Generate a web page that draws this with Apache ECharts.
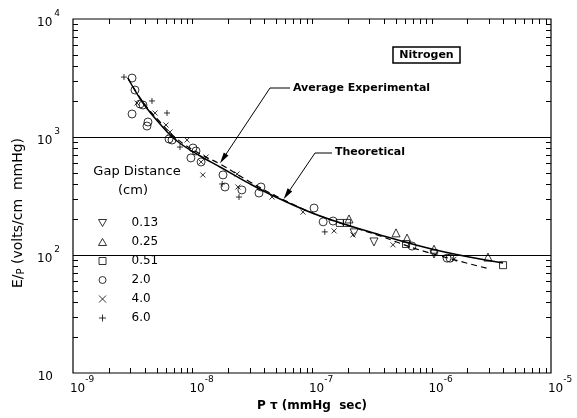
<!DOCTYPE html>
<html><head><meta charset="utf-8">
<script src="https://cdn.jsdelivr.net/npm/echarts@6/dist/echarts.min.js"></script>
<style>html,body{margin:0;padding:0;background:#fff}#c{width:577px;height:418px}</style>
</head><body><div id="c"></div>
<script>
// ---- data ----
const xMajor = [1e-9, 1e-8, 1e-7, 1e-6, 1e-5];
const yMajor = [10, 100, 1000, 10000];
const gapNames = ['0.13', '0.25', '0.51', '2.0', '4.0', '6.0'];
const gap013 = [[2.25e-7,154],[3.3e-7,129],[1.05e-6,102]];
const gap025 = [[2.04e-7,202],[5.05e-7,154],[6.24e-7,139],[1.05e-6,112],[2.97e-6,96]];
const gap051 = [[1.71e-7,187],[1.96e-7,187],[6.12e-7,124],[3.97e-6,82]];
const gap20 = [[3.12e-9,3160],[3.30e-9,2500],[3.64e-9,1905],[3.85e-9,1867],[3.12e-9,1567],[4.24e-9,1340],[4.16e-9,1238],[6.36e-9,962],[6.74e-9,943],[1.01e-8,807],[1.07e-8,761],[9.7e-9,665],[1.18e-8,614],[1.80e-8,477],[1.87e-8,377],[2.59e-8,356],[3.74e-8,377],[3.60e-8,335],[1.04e-7,250],[1.24e-7,191],[1.50e-7,194],[6.87e-7,119],[1.35e-6,94],[1.43e-6,94]];
const gap40 = [[3.43e-9,1940],[4.86e-9,1597],[6.0e-9,1264],[6.48e-9,1102],[9.0e-9,943],[1.30e-8,677],[1.18e-8,614],[1.22e-8,477],[2.36e-8,486],[2.40e-8,377],[4.63e-8,310],[8.41e-8,231],[1.53e-7,160],[2.20e-7,148],[4.76e-7,122],[1.54e-6,92]];
const gap60 = [[2.67e-9,3220],[4.58e-9,2020],[6.12e-9,1597],[7.86e-9,822],[1.77e-8,400],[2.45e-8,310],[1.28e-7,157]];
const avgExp = [[2.88e-9,3162],[3.85e-9,1940],[5.35e-9,1289],[7.42e-9,925],[1.16e-8,690],[1.70e-8,557],[3.03e-8,400],[5.40e-8,298],[1.17e-7,214],[3.71e-7,148],[1.18e-6,108],[3.97e-6,85.5]];
const theory = [[2.88e-9,3162],[3.85e-9,1980],[5.35e-9,1340],[7.42e-9,962],[1.16e-8,718],[1.70e-8,590],[3.03e-8,416],[5.40e-8,304],[1.17e-7,214],[3.71e-7,145],[8.0e-7,110],[3.09e-6,76]];
const avgArrowTip = [1.7e-8, 600];
const theoArrowTip = [5.8e-8, 298];

// interior minor tick values (2..9 per decade plus inner decades)
function decadeTicks(lo, hi) {
  const out = [];
  for (let e = lo; e < hi; e++) for (let m = (e === lo ? 2 : 1); m <= 9; m++) out.push(m * Math.pow(10, e));
  return out;
}
const xMinor = decadeTicks(-9, -5);
const yMinor = decadeTicks(1, 4);

const GRID = {left: 73, top: 19, right: 26, bottom: 45};
const CW = 577, CH = 418;
const xMin = xMajor[0], xMax = xMajor[xMajor.length - 1], yMin = yMajor[0], yMax = yMajor[yMajor.length - 1];

const chart = echarts.init(document.getElementById('c'));
const FONT = 'DejaVu Sans';
const symbols = [
  'path://M0,0L10,0L5,8.7Z',
  'path://M5,0L10,8.7L0,8.7Z',
  'path://M0,0L10,0L10,10L0,10Z',
  'circle',
  'path://M0,0L10,10M10,0L0,10',
  'path://M5,0L5,10M0,5L10,5'
];
const sizes = [8, 8, 7, 8, 5, 6];
const gapData = [gap013, gap025, gap051, gap20, gap40, gap60];

const series = gapNames.map((n, i) => ({
  name: n, type: 'scatter', data: gapData[i], symbol: symbols[i], symbolSize: sizes[i],
  itemStyle: {color: 'rgba(0,0,0,0)', borderColor: '#000', borderWidth: 1}, z: 5, silent: true
}));
series.push({
  name: 'Average Experimental', type: 'line', data: avgExp, smooth: 0.4, showSymbol: false,
  lineStyle: {color: '#000', width: 1.5}, z: 4, silent: true,
  markLine: {
    silent: true, symbol: 'none', label: {show: false}, animation: false,
    lineStyle: {color: '#000', type: 'solid', width: 1},
    data: [{xAxis: xMajor[1]}, {xAxis: xMajor[2]}, {xAxis: xMajor[3]}, {yAxis: yMajor[1]}, {yAxis: yMajor[2]}]
  }
});
series.push({
  name: 'Theoretical', type: 'line', data: theory, smooth: 0.4, showSymbol: false,
  lineStyle: {color: '#000', width: 1.2, type: [6, 4]}, z: 4, silent: true
});

chart.setOption({
  animation: false,
  backgroundColor: '#fff',
  textStyle: {fontFamily: FONT, color: '#000'},
  grid: Object.assign({show: true, borderColor: '#000', borderWidth: 1.2, backgroundColor: 'transparent'}, GRID),
  xAxis: {
    type: 'log', logBase: 10, min: xMin, max: xMax, splitNumber: 4, position: 'bottom',
    axisLine: {show: false}, splitLine: {show: false}, axisTick: {show: false},
    axisLabel: {
      margin: 2, showMinLabel: true, showMaxLabel: true, color: '#000',
      formatter: v => '{p|}{b|10}{s|' + Math.round(Math.log10(v)) + '}',
      rich: {p: {width: 18}, b: {fontSize: 12, lineHeight: 20, verticalAlign: 'bottom'}, s: {fontSize: 9, lineHeight: 9, verticalAlign: 'top'}}
    },
    name: 'P τ (mmHg  sec)', nameLocation: 'middle', nameGap: 24,
    nameTextStyle: {fontSize: 12, fontWeight: 'bold', color: '#000', fontFamily: FONT}
  },
  yAxis: {
    type: 'log', logBase: 10, min: yMin, max: yMax, splitNumber: 3, position: 'left',
    axisLine: {show: false}, splitLine: {show: false}, axisTick: {show: false},
    axisLabel: {
      margin: 13, showMinLabel: true, showMaxLabel: true, color: '#000',
      formatter: v => { const e = Math.round(Math.log10(v)); return e === 1 ? '{b|10}{e|}' : '{b|10}{s|' + e + '}'; },
      rich: {b: {fontSize: 12, lineHeight: 20, verticalAlign: 'bottom'}, s: {fontSize: 9, lineHeight: 9, verticalAlign: 'top', padding: [0, 0, 0, 2]}, e: {width: 7}}
    }
  },
  legend: {
    data: gapNames, orient: 'vertical', left: 98, top: 213.5, padding: 0, itemWidth: 48, itemHeight: 7, itemGap: 0,
    selectedMode: false, symbolKeepAspect: true,
    itemStyle: {borderWidth: 1},
    textStyle: {fontSize: 12, lineHeight: 19, color: '#000', fontFamily: FONT}
  },
  series: series
});

const toPx = d => chart.convertToPixel({xAxisIndex: 0, yAxisIndex: 0}, d);

// frame edges from the grid layout
const xL = GRID.left, xR = CW - GRID.right, yT = GRID.top, yB = CH - GRID.bottom;
// tick position along an axis: from the axis scale, with a log mapping fallback
function xPos(v) {
  const p = toPx([v, 100]);
  let x = p && isFinite(p[0]) ? p[0] : xL + (Math.log10(v) - Math.log10(xMin)) / Math.log10(xMax / xMin) * (xR - xL);
  return Math.round(x) + 0.5;
}
function yPos(v) {
  const p = toPx([1e-7, v]);
  let y = p && isFinite(p[1]) ? p[1] : yB - (Math.log10(v) - Math.log10(yMin)) / Math.log10(yMax / yMin) * (yB - yT);
  return Math.round(y) + 0.5;
}

function arrow(fromPts, tipData) {
  const tip = toPx(tipData);
  const last = fromPts[fromPts.length - 1];
  const dx = tip[0] - last[0], dy = tip[1] - last[1], L = Math.hypot(dx, dy);
  const ux = dx / L, uy = dy / L, hl = 11, hw = 2.8;
  const bx = tip[0] - ux * hl, by = tip[1] - uy * hl;
  return [
    {type: 'polyline', shape: {points: fromPts.concat([[bx + ux * 2, by + uy * 2]])}, style: {stroke: '#000', lineWidth: 1, fill: 'none'}},
    {type: 'polygon', shape: {points: [tip, [bx - uy * hw, by + ux * hw], [bx + uy * hw, by - ux * hw]]}, style: {fill: '#000'}}
  ];
}

const g = [];
const TL = 5;
xMinor.forEach(v => {
  const px = xPos(v);
  g.push({type: 'line', shape: {x1: px, y1: yB, x2: px, y2: yB - TL}, style: {stroke: '#000', lineWidth: 1}});
  g.push({type: 'line', shape: {x1: px, y1: yT, x2: px, y2: yT + TL}, style: {stroke: '#000', lineWidth: 1}});
});
yMinor.forEach(v => {
  const py = yPos(v);
  g.push({type: 'line', shape: {x1: xL, y1: py, x2: xL + TL, y2: py}, style: {stroke: '#000', lineWidth: 1}});
  g.push({type: 'line', shape: {x1: xR, y1: py, x2: xR - TL, y2: py}, style: {stroke: '#000', lineWidth: 1}});
});

g.push({type: 'rect', shape: {x: 393, y: 47, width: 67, height: 16}, style: {fill: '#fff', stroke: '#000', lineWidth: 1.5}});
g.push({type: 'text', x: 426.5, y: 55.5, style: {text: 'Nitrogen', fontFamily: FONT, fontSize: 11, fontWeight: 'bold', align: 'center', verticalAlign: 'middle', fill: '#000'}});
g.push({type: 'text', x: 293, y: 88, style: {text: 'Average Experimental', fontFamily: FONT, fontSize: 11, fontWeight: 'bold', align: 'left', verticalAlign: 'middle', fill: '#000'}});
g.push({type: 'text', x: 335, y: 152, style: {text: 'Theoretical', fontFamily: FONT, fontSize: 11, fontWeight: 'bold', align: 'left', verticalAlign: 'middle', fill: '#000'}});
g.push(...arrow([[290, 88], [270, 88]], avgArrowTip));
g.push(...arrow([[332, 153], [315, 153]], theoArrowTip));
g.push({type: 'text', x: 137, y: 172, style: {text: 'Gap Distance', fontFamily: FONT, fontSize: 13, align: 'center', verticalAlign: 'middle', fill: '#000'}});
g.push({type: 'text', x: 133, y: 191, style: {text: '(cm)', fontFamily: FONT, fontSize: 13, align: 'center', verticalAlign: 'middle', fill: '#000'}});
g.push({type: 'text', x: 19, y: 213, rotation: Math.PI / 2,
  style: {text: '{n|E/}{sub|P}{n| (volts/cm  mmHg)}', align: 'center', verticalAlign: 'middle', fill: '#000', fontFamily: FONT,
    rich: {n: {fontSize: 14, lineHeight: 15, verticalAlign: 'top', fontFamily: FONT}, sub: {fontSize: 10, lineHeight: 8, verticalAlign: 'bottom', fontFamily: FONT}}}});
chart.setOption({graphic: g});
</script></body></html>
